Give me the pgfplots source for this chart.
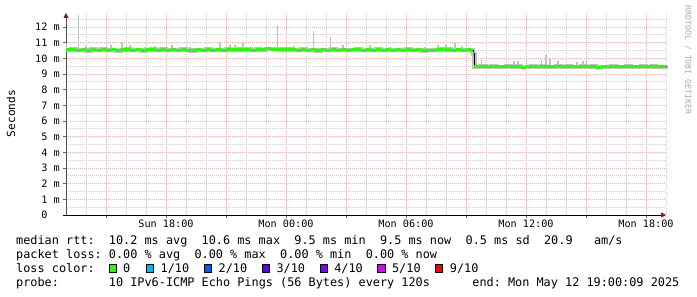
\documentclass[border=0pt]{standalone}
\usepackage{fontspec}
\setmonofont{DejaVu Sans Mono}
\usepackage{pgfplots}
\pgfplotsset{compat=1.18}
\usepackage{pgfplotstable}
\usetikzlibrary{arrows.meta}

\definecolor{medgreen}{HTML}{26FF00}
\definecolor{l1}{HTML}{00B8FF}
\definecolor{l2}{HTML}{0059FF}
\definecolor{l3}{HTML}{5E00FF}
\definecolor{l4}{HTML}{7E00FF}
\definecolor{l5}{HTML}{DD00FF}
\definecolor{l9}{HTML}{FF0000}
\definecolor{gridmaj}{RGB}{230,176,176}
\definecolor{gridmin}{RGB}{205,205,205}
\definecolor{smoke}{RGB}{192,192,192}
\definecolor{arrowred}{RGB}{140,20,20}
\definecolor{wmark}{RGB}{170,170,170}

\newcommand{\legfont}{\ttfamily\fontsize{11.85bp}{14bp}\selectfont}
\newcommand{\axfont}{\ttfamily\fontsize{10.2bp}{12bp}\selectfont}

% median rtt (hours since Sun 00:00, ms)
\pgfplotstableread{
h y
13.00 10.55
13.25 10.58
13.50 10.52
13.75 10.55
14.00 10.50
14.25 10.56
14.50 10.53
14.75 10.58
15.00 10.51
15.25 10.55
15.50 10.49
15.75 10.54
16.00 10.57
16.25 10.52
16.50 10.55
16.75 10.50
17.00 10.54
17.25 10.58
17.50 10.53
17.75 10.56
18.00 10.51
18.25 10.55
18.50 10.52
18.75 10.57
19.00 10.53
19.25 10.50
19.50 10.55
19.75 10.53
20.00 10.58
20.25 10.52
20.50 10.55
20.75 10.51
21.00 10.56
21.25 10.54
21.50 10.59
21.75 10.55
22.00 10.57
22.25 10.53
22.50 10.58
22.75 10.55
23.00 10.60
23.25 10.57
23.50 10.59
23.75 10.56
24.00 10.58
24.25 10.55
24.50 10.53
24.75 10.57
25.00 10.52
25.25 10.55
25.50 10.50
25.75 10.54
26.00 10.52
26.25 10.56
26.50 10.53
26.75 10.55
27.00 10.51
27.25 10.54
27.50 10.57
27.75 10.52
28.00 10.55
28.25 10.53
28.50 10.56
28.75 10.51
29.00 10.54
29.25 10.52
29.50 10.55
29.75 10.53
30.00 10.56
30.25 10.52
30.50 10.54
30.75 10.50
31.00 10.53
31.25 10.51
31.50 10.55
31.75 10.58
32.00 10.56
32.25 10.53
32.50 10.55
32.75 10.52
33.00 10.54
33.25 10.50
33.35 10.30
33.42 9.47
33.50 9.45
33.75 9.48
34.00 9.46
34.25 9.49
34.50 9.45
34.75 9.47
35.00 9.50
35.25 9.46
35.50 9.48
35.75 9.44
36.00 9.47
36.25 9.49
36.50 9.46
36.75 9.48
37.00 9.45
37.25 9.47
37.50 9.50
37.75 9.46
38.00 9.48
38.25 9.45
38.50 9.47
38.75 9.49
39.00 9.46
39.25 9.48
39.50 9.44
39.75 9.47
40.00 9.46
40.25 9.49
40.50 9.45
40.75 9.47
41.00 9.48
41.25 9.45
41.50 9.47
41.75 9.49
42.00 9.46
42.25 9.48
42.50 9.45
42.75 9.47
43.00 9.48
}\median

% smoke spikes: base, extent above, extent below
\pgfplotstableread{
h y ep em
13.04 10.55 0.43 0.08
13.62 10.55 2.21 0.08
14.00 10.55 0.25 0.10
14.40 10.55 0.20 0.06
15.25 10.55 0.30 0.08
15.80 10.55 0.50 0.10
16.20 10.55 0.30 0.06
16.95 10.55 0.20 0.08
17.45 10.55 0.25 0.10
18.30 10.55 0.30 0.08
19.20 10.55 0.15 0.06
19.95 10.55 0.20 0.10
20.70 10.55 0.40 0.08
21.20 10.55 0.30 0.06
21.45 10.55 0.30 0.08
21.85 10.55 0.45 0.10
22.45 10.55 0.20 0.06
22.95 10.55 0.15 0.08
23.57 10.56 1.58 0.08
24.40 10.55 0.25 0.10
24.95 10.55 0.20 0.06
25.37 10.55 1.19 0.08
26.23 10.55 0.83 0.10
26.85 10.55 0.30 0.06
27.45 10.55 0.20 0.08
28.20 10.55 0.30 0.08
29.20 10.55 0.15 0.06
30.20 10.55 0.20 0.08
30.95 10.55 0.15 0.06
31.60 10.55 0.30 0.08
32.00 10.55 0.30 0.06
32.45 10.55 0.40 0.08
32.80 10.55 0.25 0.06
33.79 9.47 0.43 0.06
34.45 9.47 0.12 0.08
34.70 9.47 0.10 0.16
35.40 9.47 0.36 0.08
35.60 9.47 0.36 0.06
36.03 9.47 0.53 0.10
36.45 9.47 0.15 0.08
36.79 9.47 0.43 0.06
37.00 9.47 0.73 0.08
37.20 9.47 0.47 0.10
37.60 9.47 0.33 0.06
38.00 9.47 0.15 0.08
38.55 9.47 0.28 0.06
38.85 9.47 0.38 0.08
39.03 9.47 0.33 0.06
39.70 9.47 0.13 0.08
40.45 9.47 0.12 0.06
41.20 9.47 0.10 0.08
41.70 9.47 0.13 0.06
42.45 9.47 0.10 0.06
}\spikes

\begin{document}
\begin{tikzpicture}
\useasboundingbox (0,0) rectangle (697bp,297bp);
\begin{axis}[
  at={(66bp,82bp)}, anchor=south west,
  scale only axis, width=600bp, height=202bp,
  xmin=13, xmax=43, ymin=0, ymax=12.893,
  axis lines*=left,
  x axis line style={black, line width=0.8bp, shorten <=-3bp,
    -{Triangle[length=5bp,width=5bp,color=arrowred]}},
  y axis line style={black!70, line width=0.8bp,
    -{Triangle[length=5bp,width=5bp,color=arrowred]}},
  xtick={15,18,...,42},
  xticklabels={,Sun 18:00,,Mon 00:00,,Mon 06:00,,Mon 12:00,,Mon 18:00},
  minor xtick={13,...,43},
  ytick={0,...,12},
  yticklabels={0\hphantom{\ m},1 m,2 m,3 m,4 m,5 m,6 m,7 m,8 m,9 m,10 m,11 m,12 m},
  minor ytick={0.5,1.5,...,12.5},
  grid=both,
  major grid style={gridmaj, dash pattern=on 1bp off 1bp, line width=0.8bp},
  minor grid style={gridmin, dash pattern=on 1bp off 1bp, line width=0.8bp},
  tick align=outside,
  major tick length=3bp, minor tick length=0bp,
  tick style={black!60, line width=0.6bp},
  xticklabel style={font=\axfont, inner sep=0pt, anchor=base, yshift=-10bp},
  yticklabel style={font=\axfont, inner sep=0pt, anchor=east, xshift=-3bp},
  clip=false,
]
\addplot[smoke, line width=4.2bp, const plot] table[x=h, y=y] {\median};
\addplot[draw=none, mark=none, error bars/.cd, y dir=both, y explicit,
  error mark=none, error bar style={draw=smoke, line width=1.3bp}]
  table[x=h, y=y, y error plus=ep, y error minus=em] {\spikes};
\addplot[black, line width=0.9bp, const plot] table[x=h, y=y] {\median};
\addplot[medgreen, line width=3bp, jump mark left] table[x=h, y=y] {\median};
\end{axis}

\node[rotate=90, font=\ttfamily\fontsize{11.2bp}{13bp}\selectfont, inner sep=0pt] at (11bp,183.5bp) {Seconds};
\node[rotate=-90, font=\ttfamily\fontsize{8.2bp}{10bp}\selectfont, text=wmark, inner sep=0pt] at (688bp,237bp) {RRDTOOL / TOBI OETIKER};

\node[anchor=base west, inner sep=0pt, font=\legfont] at (16bp,52.5bp)
  {median rtt:~~10.2 ms avg~~10.6 ms max~~9.5 ms min~~9.5 ms now~~0.5 ms sd~~20.9~~~am/s};
\node[anchor=base west, inner sep=0pt, font=\legfont] at (16bp,38.5bp)
  {packet loss: 0.00 \% avg~~0.00 \% max~~0.00 \% min~~0.00 \% now};
\node[anchor=base west, inner sep=0pt, font=\legfont] at (16bp,24.5bp) {loss color:};
\foreach \bx/\col/\lab in {108.5/medgreen/0, 146/l1/1\slash10, 204/l2/2\slash10, 261.8/l3/3\slash10, 319.6/l4/4\slash10, 377.4/l5/5\slash10, 435.2/l9/9\slash10}{
  \filldraw[fill=\col, draw=black, line width=0.8bp] (\bx bp+0.4bp,25bp) rectangle (\bx bp+7.6bp,32.2bp);
  \node[anchor=base west, inner sep=0pt, font=\legfont] at (\bx bp+14.5bp,24.5bp) {\lab};
}
\node[anchor=base west, inner sep=0pt, font=\legfont] at (16bp,10.5bp)
  {probe:~~~~~~~10 IPv6-ICMP Echo Pings (56 Bytes) every 120s};
\node[anchor=base east, inner sep=0pt, font=\legfont] at (679.5bp,10.5bp)
  {end: Mon May 12 19:00:09 2025};
\end{tikzpicture}
\end{document}
